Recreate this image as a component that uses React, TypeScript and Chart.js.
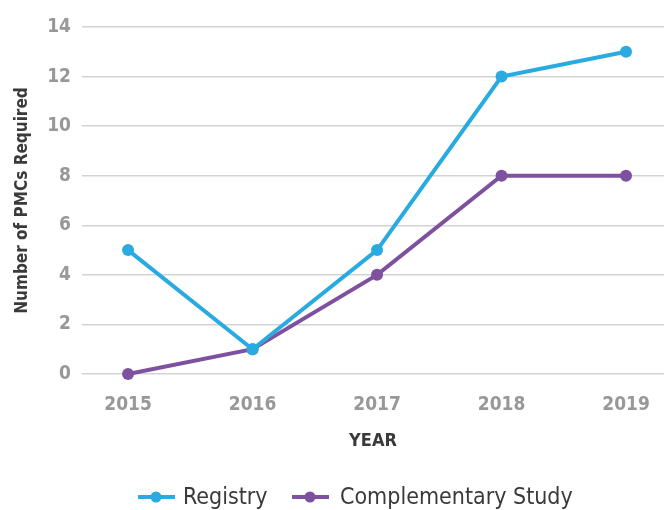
import React, { useEffect, useRef } from "react";
import { Chart, registerables } from "chart.js";

Chart.register(...registerables);

const years = [2015, 2016, 2017, 2018, 2019];
const registry = [5, 1, 5, 12, 13];
const complementary = [0, 1, 4, 8, 8];
const seriesNames = ["Registry", "Complementary Study"];
const yTicks = [0, 2, 4, 6, 8, 10, 12, 14];

const BLUE = "#29aae1";
const PURPLE = "#7e51a0";
const FONT = "'Liberation Sans Narrow', 'DejaVu Sans Condensed', 'Roboto', sans-serif";

const legendPlugin = {
  id: "customLegend",
  afterDraw(chart: any) {
    const ctx = chart.ctx;
    const y = 497;
    const items = [
      { x: 138, textX: 183 },
      { x: 292, textX: 340 },
    ];
    ctx.save();
    chart.data.datasets.forEach((ds: any, i: number) => {
      const it = items[i];
      ctx.strokeStyle = ds.borderColor;
      ctx.lineWidth = 4;
      ctx.beginPath();
      ctx.moveTo(it.x, y);
      ctx.lineTo(it.x + 37, y);
      ctx.stroke();
      ctx.fillStyle = ds.borderColor;
      ctx.beginPath();
      ctx.arc(it.x + 18, y, 5.5, 0, Math.PI * 2);
      ctx.fill();
      ctx.fillStyle = "#3a3a3c";
      ctx.font = `23px ${FONT}`;
      ctx.textBaseline = "middle";
      ctx.textAlign = "left";
      ctx.fillText(ds.label, it.textX, y + 1);
    });
    ctx.restore();
  },
};

export default function App() {
  const ref = useRef<HTMLCanvasElement>(null);
  useEffect(() => {
    if (!ref.current) return;
    const chart = new Chart(ref.current, {
      type: "line",
      data: {
        datasets: [
          {
            label: seriesNames[0],
            data: years.map((x, i) => ({ x, y: registry[i] })),
            borderColor: BLUE,
            backgroundColor: BLUE,
            borderWidth: 4,
            pointRadius: 6,
            pointHoverRadius: 6,
            pointBorderWidth: 0,
            clip: false,
          },
          {
            label: seriesNames[1],
            data: years.map((x, i) => ({ x, y: complementary[i] })),
            borderColor: PURPLE,
            backgroundColor: PURPLE,
            borderWidth: 4,
            pointRadius: 6,
            pointHoverRadius: 6,
            pointBorderWidth: 0,
            clip: false,
          },
        ],
      },
      options: {
        animation: false,
        responsive: false,
        maintainAspectRatio: false,
        layout: { autoPadding: false, padding: { top: 27, right: 0, left: 0, bottom: 0 } },
        plugins: { legend: { display: false }, tooltip: { enabled: false } },
        scales: {
          x: {
            type: "linear",
            min: 2014.63,
            max: 2019.305,
            grid: { display: false },
            border: { display: false },
            ticks: {
              stepSize: 1,
              includeBounds: false,
              autoSkip: false,
              maxRotation: 0,
              padding: 12,
              color: "#98989b",
              font: { family: FONT, size: 19, weight: "bold" },
              callback: (v: any) => (Number.isInteger(v) && years.includes(v) ? String(v) : ""),
            },
            title: {
              display: true,
              text: "YEAR",
              color: "#3a3a3c",
              font: { family: FONT, size: 18, weight: "bold" },
              padding: { top: 0, bottom: 58 },
            },
            afterFit: (s: any) => {
              s.height = 136;
              s.paddingLeft = 0;
              s.paddingRight = 0;
            },
          },
          y: {
            min: 0,
            max: 14,
            afterBuildTicks: (s: any) => {
              s.ticks = yTicks.map((v) => ({ value: v }));
            },
            grid: { color: "#d3d3d3", lineWidth: 1.5, drawTicks: false },
            border: { display: false },
            ticks: {
              padding: 11,
              color: "#98989b",
              font: { family: FONT, size: 19, weight: "bold" },
            },
            title: {
              display: true,
              text: "Number of PMCs Required",
              color: "#3a3a3c",
              font: { family: FONT, size: 17, weight: "bold" },
              padding: { top: 12, bottom: 0 },
            },
            afterFit: (s: any) => {
              s.width = 82;
              s.paddingTop = 0;
              s.paddingBottom = 0;
            },
          },
        },
      } as any,
      plugins: [legendPlugin],
    });
    return () => chart.destroy();
  }, []);
  return (
    <div style={{ position: "fixed", left: 0, top: 0, width: 664, height: 510, background: "#fff" }}>
      <canvas ref={ref} width={664} height={510} style={{ display: "block" }} />
    </div>
  );
}
